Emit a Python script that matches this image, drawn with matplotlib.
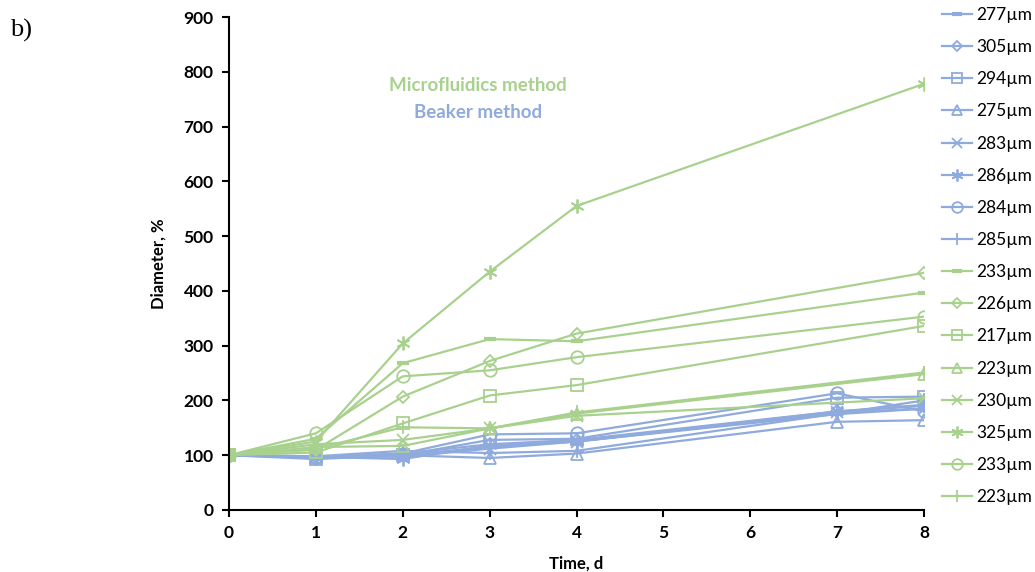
import numpy as np
import matplotlib.pyplot as plt

plt.rcParams['font.family'] = ['Lato', 'DejaVu Sans']

BLUE = '#8FAADC'
GREEN = '#A9D18E'

# days measured
days_beaker = [0, 1, 2, 3, 4, 7, 8]
days_micro = [0, 1, 2, 3, 4, 8]

# beaker method (diameter, % of initial)
beaker_labels = ['277µm', '305µm', '294µm', '275µm', '283µm', '286µm', '284µm', '285µm']
b277 = [100, 95, 100, 115, 125, 175, 185]
b305 = [100, 97, 103, 120, 128, 180, 190]
b294 = [100, 93, 100, 128, 130, 205, 207]
b275 = [100, 97, 100, 95, 103, 161, 164]
b283 = [100, 98, 97, 112, 125, 178, 185]
b286 = [100, 97, 93, 118, 125, 180, 192]
b284 = [100, 97, 103, 138, 140, 213, 180]
b285 = [100, 98, 108, 104, 108, 176, 200]
beaker_vals = [b277, b305, b294, b275, b283, b286, b284, b285]

# microfluidics method
micro_labels = ['233µm', '226µm', '217µm', '223µm', '230µm', '325µm', '233µm', '223µm']
m233a = [100, 130, 268, 312, 308, 397]
m226 = [100, 110, 207, 272, 322, 433]
m217 = [100, 105, 158, 209, 228, 336]
m223a = [100, 115, 117, 149, 176, 248]
m230 = [100, 120, 128, 149, 172, 204]
m325 = [100, 125, 304, 435, 555, 778]
m233b = [100, 140, 244, 255, 279, 353]
m223b = [100, 112, 151, 149, 178, 251]
micro_vals = [m233a, m226, m217, m223a, m230, m325, m233b, m223b]

markers = ['_', 'D', 's', '^', 'x', (6, 2, 0), 'o', '+']
msizes = [9, 6, 8, 8, 8, 10, 9, 10]

fig = plt.figure(figsize=(10.35, 5.72), dpi=100)
ax = fig.add_axes([229/1035, 1-510/572, (924-229)/1035, (510-17)/572])

def draw(days, vals, labels, color):
    for v, lab, mk, ms in zip(vals, labels, markers, msizes):
        mew = 3 if mk == '_' else 1.3
        ax.plot(days, v, color=color, lw=1.6, marker=mk, ms=ms,
                mfc='none', mec=color, mew=mew, label=lab)

draw(days_beaker, beaker_vals, beaker_labels, BLUE)
draw(days_micro, micro_vals, micro_labels, GREEN)

ax.set_xlim(0, 8)
ax.set_ylim(0, 900)
ax.set_xticks(range(0, 9))
ax.set_yticks(range(0, 901, 100))
ax.spines['top'].set_visible(False)
ax.spines['right'].set_visible(False)
ax.spines['left'].set_linewidth(1.5)
ax.spines['bottom'].set_linewidth(1.5)
ax.tick_params(direction='out', length=5, width=1.5, labelsize=12.5, pad=6)
for t in ax.get_xticklabels() + ax.get_yticklabels():
    t.set_fontweight('bold')
ax.set_xlabel('Time, d', fontsize=12, fontweight='bold', labelpad=10)
ax.set_ylabel('Diameter, %', fontsize=12, fontweight='bold', labelpad=12)

ax.text(0.358, 0.861, 'Microfluidics method', transform=ax.transAxes, color=GREEN,
        fontsize=13.5, fontweight='bold', ha='center', va='center')
ax.text(0.358, 0.806, 'Beaker method', transform=ax.transAxes, color=BLUE,
        fontsize=13.5, fontweight='bold', ha='center', va='center')

fig.text(10/1035, 1-30/572, 'b)', family='Liberation Serif', fontsize=19, va='center')

leg = ax.legend(loc='upper left', bbox_to_anchor=(942/1035, 1-7/572), bbox_transform=fig.transFigure,
                frameon=False, fontsize=12.5, labelspacing=0.93, handlelength=1.7,
                handletextpad=0.25, borderaxespad=0, borderpad=0)
for h in leg.legend_handles:
    h.set_markersize(h.get_markersize() * 0.85)

fig.savefig('out.png', dpi=100)
